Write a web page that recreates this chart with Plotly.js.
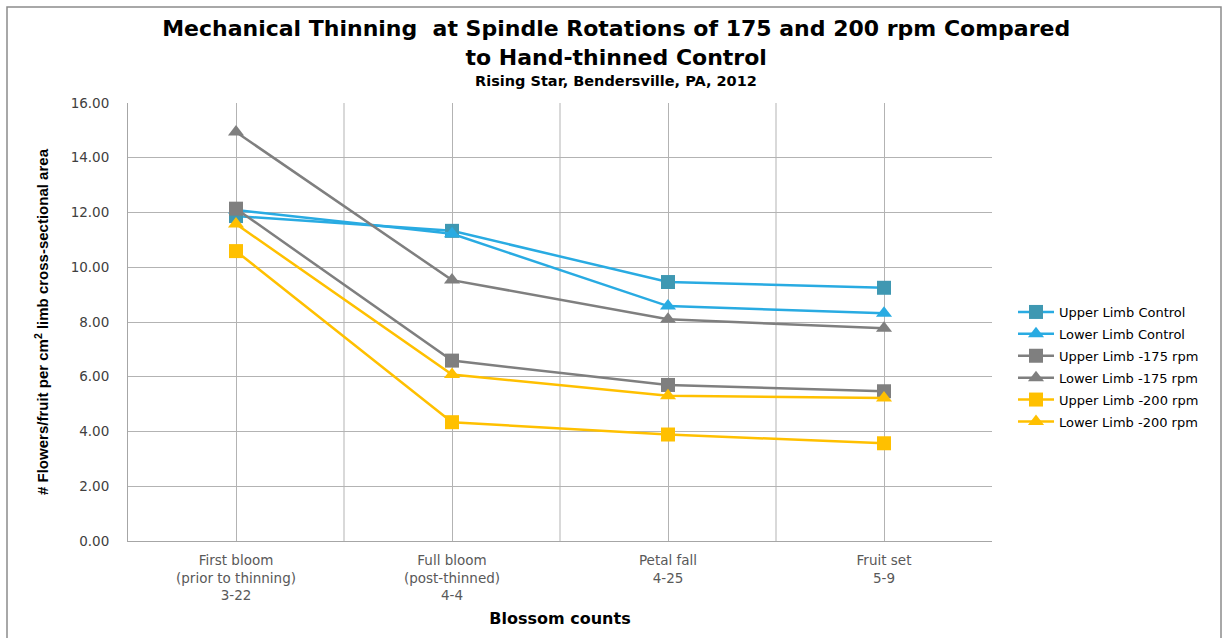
<!DOCTYPE html>
<html>
<head>
<meta charset="utf-8">
<script src="https://cdn.plot.ly/plotly-3.0.1.min.js"></script>
<style>html,body{margin:0;padding:0;background:#fff;}#chart{width:1225px;height:638px;}</style>
</head>
<body>
<div id="chart"></div>
<script>
const categories = ["First bloom<br>(prior to thinning)<br>3-22", "Full bloom<br>(post-thinned)<br>4-4", "Petal fall<br>4-25", "Fruit set<br>5-9"];
const upperControl = [11.87, 11.33, 9.46, 9.25];
const lowerControl = [12.09, 11.22, 8.58, 8.32];
const upper175 = [12.14, 6.59, 5.70, 5.47];
const lower175 = [14.94, 9.53, 8.10, 7.77];
const upper200 = [10.59, 4.34, 3.89, 3.57];
const lower200 = [11.58, 6.08, 5.31, 5.22];
const seriesNames = ["Upper Limb Control", "Lower Limb Control", "Upper Limb -175 rpm", "Lower Limb -175 rpm", "Upper Limb -200 rpm", "Lower Limb -200 rpm"];
const yTicks = [0, 2, 4, 6, 8, 10, 12, 14, 16];

const xIdx = categories.map((c, i) => i);
const seriesData = [upperControl, lowerControl, upper175, lower175, upper200, lower200];
const lineColors = ["#29abe2", "#29abe2", "#7f7f7f", "#7f7f7f", "#ffc000", "#ffc000"];
const markerColors = ["#3f98b2", "#29abe2", "#7f7f7f", "#7f7f7f", "#ffc000", "#ffc000"];
const symbols = ["square", "triangle-up", "square", "triangle-up", "square", "triangle-up"];

const traces = seriesData.map((vals, i) => ({
  type: "scatter",
  mode: "lines+markers",
  x: xIdx,
  y: vals,
  name: seriesNames[i],
  legendgroup: "g" + i,
  line: {color: lineColors[i], width: 2.5},
  marker: {symbol: symbols[i], size: 14, color: markerColors[i]},
  hoverinfo: "x+y+name"
}));

const layout = {
  width: 1225,
  height: 638,
  paper_bgcolor: "#ffffff",
  plot_bgcolor: "#ffffff",
  margin: {l: 128, r: 233, t: 103, b: 97},
  title: {
    text: "Mechanical Thinning  at Spindle Rotations of 175 and 200 rpm Compared<br>to Hand-thinned Control",
    font: {family: "DejaVu Sans, Verdana", size: 22, color: "#000000", weight: "bold"},
    xref: "container", x: 0.503, xanchor: "center",
    yref: "container", y: 1 - 36 / 638, yanchor: "middle"
  },
  annotations: [{
    text: "<b>Rising Star, Bendersville, PA, 2012</b>",
    xref: "paper", yref: "paper",
    x: (616 - 128) / 864, y: (541 - 81) / 438,
    xanchor: "center", yanchor: "middle",
    showarrow: false,
    font: {family: "DejaVu Sans, Verdana", size: 14.5, color: "#000000"}
  }],
  xaxis: {
    range: [-0.5, 3.5],
    tickmode: "array",
    tickvals: xIdx,
    ticktext: categories,
    showgrid: true,
    gridcolor: "#b3b3b3",
    gridwidth: 1,
    zeroline: false,
    showline: true,
    linecolor: "#a6a6a6",
    linewidth: 1,
    ticks: "",
    ticklabelstandoff: 7,
    tickfont: {family: "DejaVu Sans, Verdana", size: 13.5, color: "#595959"},
    minor: {tick0: 0.5, dtick: 1, showgrid: true, gridcolor: "#d9d9d9", gridwidth: 1.5, ticks: ""},
    title: {text: "<b>Blossom counts</b>", font: {family: "DejaVu Sans, Verdana", size: 16, color: "#000000"}, standoff: 10},
    fixedrange: true
  },
  yaxis: {
    range: [0, 16],
    tickmode: "array",
    tickvals: yTicks,
    ticktext: yTicks.map(v => v.toFixed(2)),
    showgrid: true,
    gridcolor: "#b3b3b3",
    gridwidth: 1,
    zeroline: false,
    showline: true,
    linecolor: "#a6a6a6",
    linewidth: 1,
    ticks: "",
    ticklen: 0,
    ticklabelstandoff: 15,
    tickfont: {family: "DejaVu Sans, Verdana", size: 13.5, color: "#404040"},
    title: {text: "<b># Flowers/fruit per cm<sup>2</sup> limb cross-sectional area</b>", font: {family: "Liberation Sans, Arial", size: 15, color: "#000000"}, standoff: 18},
    fixedrange: true
  },
  legend: {
    x: (1013 - 128) / 864,
    xanchor: "left",
    y: (541 - 297) / 438,
    yanchor: "top",
    traceorder: "grouped",
    tracegroupgap: 2,
    bgcolor: "rgba(0,0,0,0)",
    font: {family: "DejaVu Sans, Verdana", size: 13, color: "#000000"},
    itemwidth: 36
  },
  showlegend: true,
  shapes: [{
    type: "rect", xref: "paper", yref: "paper",
    x0: (7 - 128) / 864, x1: (1221 - 128) / 864,
    y0: (541 - 640) / 438, y1: (541 - 7) / 438,
    line: {color: "#8c8c8c", width: 1.5}, fillcolor: "rgba(0,0,0,0)", layer: "below"
  }]
};

Plotly.newPlot("chart", traces, layout, {displayModeBar: false, staticPlot: true});
</script>
</body>
</html>
